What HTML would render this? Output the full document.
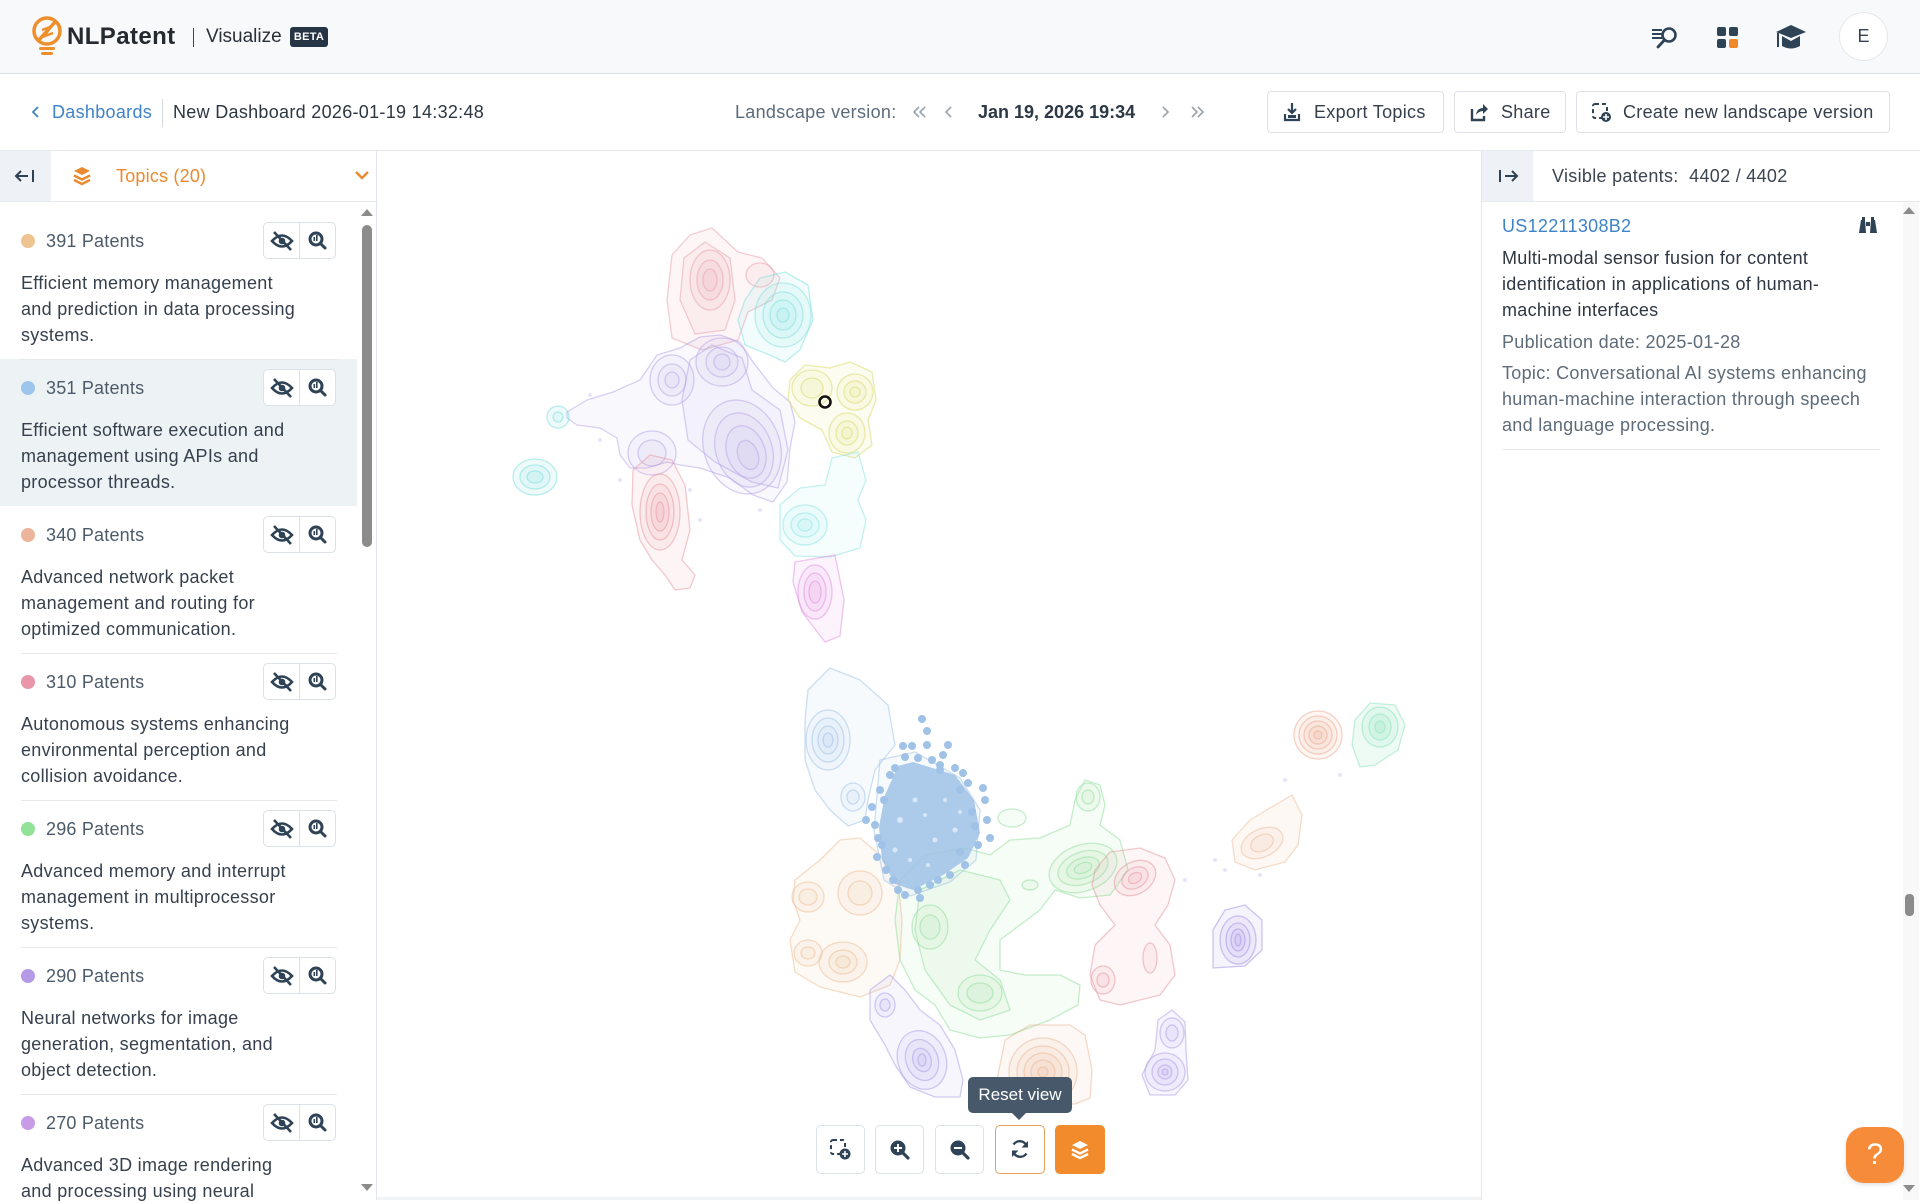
<!DOCTYPE html>
<html><head><meta charset="utf-8">
<style>
*{margin:0;padding:0;box-sizing:border-box}
body{width:1920px;height:1200px;overflow:hidden;background:#fff;font-family:"Liberation Sans",Arial,sans-serif;position:relative;color:#2e3a47}
.a{position:absolute;white-space:nowrap}
.t18{font-size:18px;letter-spacing:.3px}
.lbl{font-size:18px;line-height:22px;color:#4d5b69;letter-spacing:.2px}
.desc{font-size:18px;line-height:26px;color:#37414d;letter-spacing:.3px}
.dot{width:14px;height:14px;border-radius:50%}
.bg2{border:1px solid #dbe1e7;border-radius:5px;width:73px;height:37px;background:#fff}
.sep{height:1px;background:#e6e9ec;left:21px;width:316px}
.tb{top:1125px;width:49px;height:49px;border:1px solid #dbe2e8;border-radius:5px;background:#fff}
.hb{top:91px;height:42px;border:1px solid #dfe3e8;border-radius:4px;background:#fff}
</style></head><body>

<!-- MAP -->
<svg class="a" style="left:0;top:0" width="1920" height="1200" viewBox="0 0 1920 1200">
<g stroke-width="1.3" stroke-linejoin="round">
<!-- pink top -->
<g fill="#e8a0aa" stroke="#e8a0aa" fill-opacity=".1" stroke-opacity=".5">
<path d="M667 300 L672 255 L690 235 L712 228 L738 252 L762 258 L780 278 L772 300 L748 312 L738 340 L702 350 L672 338Z"/>
<path d="M680 300 L684 258 L705 242 L730 258 L735 300 L725 330 L695 334Z"/>
<ellipse cx="710" cy="280" rx="20" ry="30"/>
<ellipse cx="710" cy="280" rx="13" ry="20"/>
<ellipse cx="710" cy="280" rx="7" ry="11"/>
<ellipse cx="760" cy="275" rx="14" ry="12"/>
</g>
<!-- cyan top -->
<g fill="#7fdede" stroke="#7fdede" fill-opacity=".1" stroke-opacity=".5">
<path d="M745 300 L760 278 L785 272 L808 285 L813 320 L800 350 L785 362 L772 356 L745 345 L738 320Z"/>
<ellipse cx="783" cy="315" rx="28" ry="32"/>
<ellipse cx="783" cy="315" rx="20" ry="23"/>
<ellipse cx="783" cy="315" rx="13" ry="15"/>
<ellipse cx="783" cy="315" rx="6" ry="7"/>
</g>
<!-- purple big -->
<g fill="#b5a2e8" stroke="#b5a2e8" fill-opacity=".08" stroke-opacity=".5">
<path d="M567 412 L587 400 L613 392 L640 380 L657 355 L680 348 L700 337 L720 335 L740 342 L753 362 L773 388 L790 402 L795 422 L790 448 L787 482 L773 502 L753 495 L730 478 L700 468 L680 465 L667 462 L647 468 L630 468 L620 455 L617 438 L600 428 L577 425 L567 418Z"/>
<path d="M690 360 L712 345 L742 358 L752 390 L780 410 L788 450 L778 488 L752 482 L715 462 L688 440 L682 400Z"/>
<ellipse cx="672" cy="380" rx="22" ry="25"/>
<ellipse cx="672" cy="380" rx="14" ry="16"/>
<ellipse cx="672" cy="380" rx="7" ry="8"/>
<ellipse cx="722" cy="362" rx="26" ry="24"/>
<ellipse cx="722" cy="362" rx="16" ry="15"/>
<ellipse cx="722" cy="362" rx="8" ry="8"/>
<ellipse cx="742" cy="447" rx="38" ry="48" transform="rotate(-20 742 447)"/>
<ellipse cx="744" cy="450" rx="28" ry="38" transform="rotate(-20 744 450)"/>
<ellipse cx="746" cy="452" rx="19" ry="27" transform="rotate(-20 746 452)"/>
<ellipse cx="748" cy="455" rx="10" ry="15" transform="rotate(-20 748 455)"/>
<ellipse cx="652" cy="453" rx="24" ry="22"/>
<ellipse cx="652" cy="453" rx="14" ry="13"/>
</g>
<!-- cyan small -->
<g fill="#7fdede" stroke="#7fdede" fill-opacity=".12" stroke-opacity=".55">
<circle cx="558" cy="417" r="11"/><circle cx="558" cy="417" r="5"/>
<ellipse cx="535" cy="477" rx="22" ry="18"/><ellipse cx="535" cy="477" rx="15" ry="12"/><ellipse cx="535" cy="477" rx="8" ry="6"/>
</g>
<!-- yellow -->
<g fill="#dede7a" stroke="#dede7a" fill-opacity=".1" stroke-opacity=".6">
<path d="M790 380 L805 365 L830 368 L850 362 L872 372 L876 400 L868 420 L872 445 L855 458 L832 452 L822 430 L800 418 L788 400Z"/>
<ellipse cx="812" cy="388" rx="20" ry="18"/><ellipse cx="812" cy="388" rx="11" ry="10"/>
<ellipse cx="855" cy="392" rx="18" ry="18"/><ellipse cx="855" cy="392" rx="11" ry="11"/><ellipse cx="855" cy="392" rx="5" ry="5"/>
<ellipse cx="847" cy="433" rx="18" ry="20"/><ellipse cx="847" cy="433" rx="11" ry="12"/><ellipse cx="847" cy="433" rx="5" ry="6"/>
</g>
<circle cx="825" cy="402" r="5.5" fill="none" stroke="#111" stroke-width="2.6"/>
<!-- cyan mid -->
<g fill="#8ce4e4" stroke="#8ce4e4" fill-opacity=".09" stroke-opacity=".5">
<path d="M832 458 L858 452 L866 480 L858 500 L866 520 L860 548 L830 557 L795 556 L780 540 L780 505 L800 488 L825 485Z"/>
<ellipse cx="805" cy="525" rx="22" ry="20"/><ellipse cx="805" cy="525" rx="14" ry="12"/><ellipse cx="805" cy="525" rx="7" ry="6"/>
</g>
<!-- red lower-left -->
<g fill="#e7959e" stroke="#e7959e" fill-opacity=".1" stroke-opacity=".5">
<path d="M633 470 L650 455 L672 460 L685 485 L690 530 L682 560 L695 575 L690 588 L675 590 L665 575 L652 560 L640 540 L632 505Z"/>
<ellipse cx="660" cy="512" rx="20" ry="38"/><ellipse cx="660" cy="512" rx="14" ry="28"/><ellipse cx="660" cy="512" rx="9" ry="19"/><ellipse cx="660" cy="512" rx="4" ry="10"/>
</g>
<!-- magenta -->
<g fill="#e08ee0" stroke="#e08ee0" fill-opacity=".11" stroke-opacity=".5">
<path d="M795 562 L835 555 L844 600 L840 636 L825 642 L802 612 L793 582Z"/>
<ellipse cx="815" cy="592" rx="17" ry="27"/><ellipse cx="815" cy="592" rx="11" ry="19"/><ellipse cx="815" cy="592" rx="6" ry="11"/>
</g>
<!-- blue contour -->
<g fill="#9cc2e8" stroke="#9cc2e8" fill-opacity=".08" stroke-opacity=".5">
<path d="M808 690 L830 668 L860 680 L888 705 L895 745 L875 770 L868 800 L865 820 L848 826 L830 810 L815 790 L805 760 L805 720Z"/>
<ellipse cx="828" cy="740" rx="22" ry="30"/><ellipse cx="828" cy="740" rx="16" ry="22"/><ellipse cx="828" cy="740" rx="10" ry="14"/><ellipse cx="828" cy="740" rx="5" ry="7"/>
<ellipse cx="853" cy="797" rx="12" ry="14"/><ellipse cx="853" cy="797" rx="6" ry="7"/>
<path d="M880 760 L915 752 L960 778 L980 810 L976 860 L950 882 L910 896 L884 880 L874 830Z"/>
</g>
<!-- orange left -->
<g fill="#eebb90" stroke="#eebb90" fill-opacity=".09" stroke-opacity=".5">
<path d="M795 880 L820 860 L840 840 L860 838 L880 855 L898 880 L902 920 L900 960 L890 985 L860 997 L820 987 L795 972 L790 940 L800 920 L793 900Z"/>
<ellipse cx="808" cy="897" rx="16" ry="15"/><ellipse cx="808" cy="897" rx="9" ry="8"/>
<ellipse cx="860" cy="893" rx="22" ry="22"/><ellipse cx="860" cy="893" rx="12" ry="12"/>
<ellipse cx="808" cy="953" rx="14" ry="13"/><ellipse cx="808" cy="953" rx="7" ry="6"/>
<ellipse cx="843" cy="962" rx="24" ry="20"/><ellipse cx="843" cy="962" rx="14" ry="12"/><ellipse cx="843" cy="962" rx="7" ry="6"/>
</g>
<!-- green -->
<g fill="#96e0a0" stroke="#96e0a0" fill-opacity=".09" stroke-opacity=".55">
<path d="M900 880 L925 855 L965 848 L990 855 L1010 840 L1040 838 L1070 825 L1075 800 L1085 780 L1100 785 L1105 805 L1100 825 L1120 840 L1128 870 L1110 895 L1080 898 L1055 890 L1040 910 L1020 925 L1000 940 L1000 970 L1025 975 L1060 975 L1080 985 L1078 1005 L1050 1020 L1010 1035 L980 1038 L950 1030 L935 1005 L915 990 L900 960 L895 920Z"/>
<path d="M920 890 L960 870 L1000 880 L1010 900 L990 930 L975 960 L1000 980 L1010 1010 L980 1020 L950 1005 L925 970 L915 930Z"/>
<ellipse cx="930" cy="927" rx="18" ry="22"/><ellipse cx="930" cy="927" rx="10" ry="12"/>
<ellipse cx="980" cy="993" rx="22" ry="18"/><ellipse cx="980" cy="993" rx="13" ry="10"/>
<ellipse cx="1083" cy="868" rx="35" ry="23" transform="rotate(-20 1083 868)"/>
<ellipse cx="1083" cy="868" rx="26" ry="16" transform="rotate(-20 1083 868)"/>
<ellipse cx="1083" cy="868" rx="17" ry="10" transform="rotate(-20 1083 868)"/>
<ellipse cx="1083" cy="868" rx="9" ry="5" transform="rotate(-20 1083 868)"/>
<ellipse cx="1088" cy="797" rx="12" ry="14"/><ellipse cx="1088" cy="797" rx="6" ry="7"/>
<ellipse cx="1012" cy="818" rx="14" ry="9"/>
<ellipse cx="1030" cy="885" rx="8" ry="5"/>
</g>
<!-- red right -->
<g fill="#e6939c" stroke="#e6939c" fill-opacity=".09" stroke-opacity=".5">
<path d="M1095 870 L1110 852 L1140 848 L1165 858 L1175 880 L1168 905 L1155 925 L1170 945 L1175 975 L1160 995 L1120 1005 L1100 1000 L1090 975 L1095 945 L1115 925 L1100 905 L1092 885Z"/>
<ellipse cx="1135" cy="878" rx="22" ry="16" transform="rotate(-30 1135 878)"/>
<ellipse cx="1135" cy="878" rx="14" ry="10" transform="rotate(-30 1135 878)"/>
<ellipse cx="1135" cy="878" rx="7" ry="5" transform="rotate(-30 1135 878)"/>
<ellipse cx="1103" cy="980" rx="12" ry="14"/><ellipse cx="1103" cy="980" rx="6" ry="7"/>
<ellipse cx="1150" cy="958" rx="7" ry="15"/>
</g>
<!-- purple lower-left -->
<g fill="#ab9ae6" stroke="#ab9ae6" fill-opacity=".09" stroke-opacity=".5">
<path d="M870 990 L890 975 L905 990 L920 1010 L940 1025 L955 1050 L963 1080 L960 1097 L935 1097 L910 1087 L895 1065 L885 1045 L870 1020Z"/>
<ellipse cx="885" cy="1005" rx="10" ry="12"/><ellipse cx="885" cy="1005" rx="5" ry="6"/>
<ellipse cx="922" cy="1060" rx="24" ry="30" transform="rotate(-20 922 1060)"/>
<ellipse cx="922" cy="1060" rx="16" ry="21" transform="rotate(-20 922 1060)"/>
<ellipse cx="922" cy="1060" rx="9" ry="12" transform="rotate(-20 922 1060)"/>
<ellipse cx="922" cy="1060" rx="4" ry="6"/>
</g>
<!-- orange bottom -->
<g fill="#eab592" stroke="#eab592" fill-opacity=".09" stroke-opacity=".5">
<path d="M997 1080 L1005 1040 L1030 1025 L1070 1025 L1085 1035 L1092 1070 L1090 1098 L1075 1104 L1000 1104Z"/>
<ellipse cx="1043" cy="1072" rx="34" ry="34"/><ellipse cx="1043" cy="1072" rx="26" ry="26"/><ellipse cx="1043" cy="1072" rx="19" ry="19"/><ellipse cx="1043" cy="1072" rx="12" ry="12"/><ellipse cx="1043" cy="1072" rx="5" ry="5"/>
</g>
<!-- purple bottom right -->
<g fill="#b09ae8" stroke="#b09ae8" fill-opacity=".1" stroke-opacity=".5">
<path d="M1158 1020 L1172 1010 L1185 1022 L1186 1050 L1188 1080 L1175 1095 L1150 1095 L1142 1075 L1155 1050Z"/>
<ellipse cx="1172" cy="1033" rx="12" ry="15"/><ellipse cx="1172" cy="1033" rx="6" ry="8"/>
<ellipse cx="1165" cy="1072" rx="20" ry="19"/><ellipse cx="1165" cy="1072" rx="13" ry="13"/><ellipse cx="1165" cy="1072" rx="7" ry="7"/><ellipse cx="1165" cy="1072" rx="3" ry="3"/>
</g>
<!-- orange circle right -->
<g fill="#eba88a" stroke="#eba88a" fill-opacity=".1" stroke-opacity=".5">
<circle cx="1318" cy="735" r="24"/><circle cx="1318" cy="735" r="19"/><circle cx="1318" cy="735" r="14"/><circle cx="1318" cy="735" r="9"/><circle cx="1318" cy="735" r="4"/>
</g>
<!-- mint -->
<g fill="#90e6bc" stroke="#90e6bc" fill-opacity=".15" stroke-opacity=".55">
<path d="M1355 720 L1370 703 L1395 705 L1405 725 L1398 750 L1375 765 L1360 767 L1352 745Z"/>
<ellipse cx="1380" cy="727" rx="18" ry="20"/><ellipse cx="1380" cy="727" rx="11" ry="13"/><ellipse cx="1380" cy="727" rx="5" ry="6"/>
</g>
<!-- orange lower right -->
<g fill="#eebb98" stroke="#eebb98" fill-opacity=".1" stroke-opacity=".5">
<path d="M1232 840 L1250 820 L1275 805 L1292 795 L1302 815 L1298 845 L1285 862 L1255 870 L1235 862Z"/>
<ellipse cx="1262" cy="843" rx="22" ry="14" transform="rotate(-25 1262 843)"/>
<ellipse cx="1262" cy="843" rx="12" ry="8" transform="rotate(-25 1262 843)"/>
</g>
<!-- purple right -->
<g fill="#a896e6" stroke="#a896e6" fill-opacity=".11" stroke-opacity=".55">
<path d="M1213 930 L1225 910 L1245 905 L1262 920 L1262 950 L1245 966 L1213 968Z"/>
<ellipse cx="1238" cy="940" rx="18" ry="24"/><ellipse cx="1238" cy="940" rx="12" ry="17"/><ellipse cx="1238" cy="940" rx="7" ry="11"/><ellipse cx="1238" cy="940" rx="3" ry="6"/>
</g>
</g>
<!-- faint scatter -->
<g fill="#c0b0ea" fill-opacity=".35">
<circle cx="600" cy="440" r="2"/><circle cx="620" cy="480" r="2"/><circle cx="690" cy="490" r="2"/><circle cx="760" cy="510" r="2"/>
<circle cx="1215" cy="860" r="2"/><circle cx="1225" cy="870" r="2"/><circle cx="1260" cy="875" r="2"/><circle cx="1185" cy="880" r="2"/>
<circle cx="700" cy="520" r="2"/><circle cx="590" cy="395" r="2"/><circle cx="1285" cy="780" r="2"/><circle cx="1340" cy="775" r="2"/>
</g>
<!-- dense blue scatter -->
<g fill="#9fc2e6">
<path d="M913 762 L955 775 L974 800 L980 833 L968 858 L943 875 L913 890 L895 884 L882 860 L879 827 L885 795 L898 766Z" fill-opacity=".85"/>
<circle cx="922" cy="719" r="4"/><circle cx="927" cy="731" r="4"/><circle cx="903" cy="746" r="4"/><circle cx="912" cy="746" r="4"/>
<circle cx="927" cy="745" r="4"/><circle cx="948" cy="745" r="4"/><circle cx="943" cy="755" r="4"/><circle cx="983" cy="788" r="4"/>
<circle cx="987" cy="820" r="4"/><circle cx="872" cy="807" r="4"/><circle cx="877" cy="857" r="4"/><circle cx="963" cy="773" r="4"/>
<circle cx="905" cy="757" r="4"/><circle cx="890" cy="775" r="4"/><circle cx="880" cy="790" r="4"/><circle cx="960" cy="790" r="4"/>
<circle cx="972" cy="812" r="4"/><circle cx="978" cy="845" r="4"/><circle cx="965" cy="865" r="4"/><circle cx="950" cy="875" r="4"/>
<circle cx="930" cy="885" r="4"/><circle cx="905" cy="895" r="4"/><circle cx="893" cy="880" r="4"/><circle cx="882" cy="845" r="4"/>
<circle cx="875" cy="825" r="4"/><circle cx="940" cy="765" r="4"/><circle cx="918" cy="890" r="4"/><circle cx="955" cy="768" r="4"/>
<circle cx="940" cy="770" r="4"/><circle cx="985" cy="800" r="4"/><circle cx="920" cy="898" r="4"/><circle cx="898" cy="890" r="4"/>
<circle cx="968" cy="783" r="4"/><circle cx="975" cy="826" r="4"/><circle cx="960" cy="852" r="4"/><circle cx="938" cy="880" r="4"/>
<circle cx="886" cy="870" r="4"/><circle cx="878" cy="838" r="4"/><circle cx="884" cy="800" r="4"/><circle cx="895" cy="768" r="4"/>
<circle cx="918" cy="758" r="4"/><circle cx="932" cy="760" r="4"/><circle cx="866" cy="820" r="4"/><circle cx="990" cy="838" r="4"/>
</g>
<g fill="#fff" fill-opacity=".55">
<circle cx="900" cy="820" r="3"/><circle cx="935" cy="840" r="2.5"/><circle cx="915" cy="800" r="2.5"/><circle cx="955" cy="830" r="2.5"/><circle cx="895" cy="850" r="2.5"/>
<circle cx="925" cy="815" r="2"/><circle cx="945" cy="800" r="2"/><circle cx="910" cy="860" r="2"/><circle cx="960" cy="812" r="2"/><circle cx="928" cy="865" r="2"/>
</g>
</svg>

<!-- HEADER -->
<div class="a" style="left:0;top:0;width:1920px;height:73px;background:#f8f9fb"></div>
<div class="a" style="left:0;top:73px;width:1920px;height:1px;background:#dcdfe4"></div>
<svg class="a" style="left:30px;top:15px" width="36" height="44" viewBox="0 0 36 44">
<circle cx="17" cy="16" r="13" fill="none" stroke="#ee8f2c" stroke-width="3.5"/>
<path d="M8 26 L26 6" stroke="#ee8f2c" stroke-width="3.5"/>
<path d="M12 15 L20 12 L15 21 L23 18" fill="none" stroke="#ee8f2c" stroke-width="2.5"/>
<rect x="9" y="32" width="16" height="3" rx="1.5" fill="#ee8f2c"/>
<rect x="11" y="37" width="12" height="3" rx="1.5" fill="#ee8f2c"/>
</svg>
<div class="a" style="left:67px;top:22px;font-size:24px;line-height:30px;font-weight:bold;color:#242a30;letter-spacing:.4px">NLPatent</div>
<div class="a" style="left:193px;top:28px;width:1px;height:19px;background:#444"></div>
<div class="a" style="left:206px;top:25px;font-size:19px;line-height:24px;color:#2a3038">Visualize</div>
<div class="a" style="left:290px;top:27px;width:38px;height:20px;background:#263545;border-radius:3px;color:#fff;font-size:11px;font-weight:bold;line-height:20px;text-align:center;letter-spacing:.3px">BETA</div>

<svg class="a" style="left:1650px;top:26px" width="32" height="24" viewBox="0 0 32 24">
<g fill="#2f4356"><rect x="2" y="3" width="10" height="2"/><rect x="2" y="7" width="10" height="2"/><rect x="2" y="11" width="10" height="2"/></g>
<circle cx="19" cy="9" r="6.5" fill="none" stroke="#2f4356" stroke-width="2.6"/>
<line x1="14.5" y1="14" x2="8" y2="21" stroke="#2f4356" stroke-width="2.8" stroke-linecap="round"/>
</svg>
<svg class="a" style="left:1717px;top:27px" width="22" height="21" viewBox="0 0 22 21">
<rect x="0" y="0" width="9" height="9" rx="2" fill="#2f4356"/><rect x="12" y="0" width="9" height="9" rx="2" fill="#2f4356"/>
<rect x="0" y="12" width="9" height="9" rx="2" fill="#2f4356"/><rect x="12" y="12" width="9" height="9" rx="2" fill="#f0882a"/>
</svg>
<svg class="a" style="left:1775px;top:24px" width="32" height="26" viewBox="0 0 32 26">
<path d="M1 8 L16 1 L31 8 L16 14Z" fill="#2f4356"/>
<path d="M7 12 L7 22 Q16 27 25 22 L25 12 L16 17Z" fill="#2f4356"/>
<rect x="2" y="9" width="2" height="14" fill="#2f4356"/>
</svg>
<div class="a" style="left:1839px;top:12px;width:49px;height:49px;border-radius:50%;background:#fff;border:1px solid #e6e8eb;text-align:center;line-height:47px;font-size:18px;color:#3a4450">E</div>

<!-- SUBHEADER -->
<div class="a" style="left:0;top:150px;width:1920px;height:1px;background:#e6e9ed"></div>
<svg class="a" style="left:31px;top:105px" width="10" height="14" viewBox="0 0 10 14"><path d="M7 2 L2 7 L7 12" fill="none" stroke="#3f83c8" stroke-width="1.8"/></svg>
<div class="a t18" style="left:52px;top:101px;line-height:22px;color:#3f83c8">Dashboards</div>
<div class="a" style="left:162px;top:99px;width:1px;height:28px;background:#d6dadf"></div>
<div class="a t18" style="left:173px;top:101px;line-height:22px;color:#2d3742">New Dashboard 2026-01-19 14:32:48</div>
<div class="a t18" style="left:735px;top:101px;line-height:22px;color:#5c6b7a">Landscape version:</div>
<svg class="a" style="left:912px;top:104px" width="46" height="16" viewBox="0 0 46 16">
<path d="M7 3 L2 8 L7 13 M13 3 L8 8 L13 13 M39 3 L34 8 L39 13" fill="none" stroke="#9aa4ae" stroke-width="1.6"/>
</svg>
<div class="a" style="left:978px;top:101px;font-size:18px;line-height:22px;font-weight:bold;color:#2d3845">Jan 19, 2026 19:34</div>
<svg class="a" style="left:1160px;top:104px" width="50" height="16" viewBox="0 0 50 16">
<path d="M3 3 L8 8 L3 13 M32 3 L37 8 L32 13 M38 3 L43 8 L38 13" fill="none" stroke="#9aa4ae" stroke-width="1.6"/>
</svg>
<div class="a hb" style="left:1267px;width:177px"></div>
<svg class="a" style="left:1283px;top:102px" width="18" height="20" viewBox="0 0 18 20"><path d="M9 1 L9 11 M5 7 L9 11 L13 7" fill="none" stroke="#2f4356" stroke-width="2.2"/><path d="M2 12 L2 18 L16 18 L16 12" fill="none" stroke="#2f4356" stroke-width="2.2"/><rect x="5" y="13" width="8" height="3" fill="#2f4356"/></svg>
<div class="a t18" style="left:1314px;top:101px;line-height:22px;color:#35404c">Export Topics</div>
<div class="a hb" style="left:1454px;width:112px"></div>
<svg class="a" style="left:1469px;top:101px" width="20" height="21" viewBox="0 0 20 21"><path d="M3 8 L3 19 L15 19 L15 15" fill="none" stroke="#2f4356" stroke-width="2.4"/><path d="M7 14 Q8 7 14 7 L14 3 L19 8 L14 13 L14 10 Q10 10 7 14Z" fill="#2f4356"/></svg>
<div class="a t18" style="left:1501px;top:101px;line-height:22px;color:#35404c">Share</div>
<div class="a hb" style="left:1576px;width:314px"></div>
<svg class="a" style="left:1591px;top:102px" width="21" height="21" viewBox="0 0 21 21"><rect x="2" y="2" width="14" height="14" rx="2" fill="none" stroke="#2f4356" stroke-width="2" stroke-dasharray="4 3"/><circle cx="15" cy="15" r="5" fill="#2f4356"/><path d="M15 12 L15 18 M12 15 L18 15" stroke="#fff" stroke-width="1.6"/></svg>
<div class="a t18" style="left:1623px;top:101px;line-height:22px;color:#35404c">Create new landscape version</div>

<!-- LEFT PANEL -->
<div class="a" style="left:0;top:151px;width:376px;height:1049px;background:#fff"></div>
<div class="a" style="left:376px;top:151px;width:1px;height:1049px;background:#e3e6ea"></div>
<div class="a" style="left:0;top:151px;width:51px;height:50px;background:#eef1f5"></div>
<svg class="a" style="left:14px;top:168px" width="22" height="16" viewBox="0 0 22 16"><path d="M2 8 L14 8 M7 3 L2 8 L7 13" fill="none" stroke="#2f4356" stroke-width="2"/><path d="M19 2 L19 14" stroke="#2f4356" stroke-width="2"/></svg>
<svg class="a" style="left:73px;top:166px" width="18" height="20" viewBox="0 0 18 20"><path d="M9 1 L17 5 L9 9 L1 5Z" fill="#ea8a2e"/><path d="M1 9.5 L9 13.5 L17 9.5" fill="none" stroke="#ea8a2e" stroke-width="2.4"/><path d="M1 14 L9 18 L17 14" fill="none" stroke="#ea8a2e" stroke-width="2.4"/></svg>
<div class="a" style="left:116px;top:165px;font-size:18px;line-height:22px;color:#ea8a2e;letter-spacing:.2px">Topics (20)</div>
<svg class="a" style="left:355px;top:170px" width="14" height="10" viewBox="0 0 14 10"><path d="M1 2 L7 8 L13 2" fill="none" stroke="#ea8a2e" stroke-width="2.4"/></svg>
<div class="a" style="left:0;top:201px;width:376px;height:1px;background:#e8ebee"></div>
<div class="a" style="left:1482px;top:201px;width:438px;height:1px;background:#e8ebee"></div>

<!-- highlight -->
<div class="a" style="left:0;top:359px;width:357px;height:147px;background:#edf2f5"></div>

<!-- items -->
<div class="a dot" style="left:21px;top:234px;background:#f0c491"></div>
<div class="a lbl" style="left:46px;top:230px">391 Patents</div>
<div class="a desc" style="left:21px;top:270px">Efficient memory management<br>and prediction in data processing<br>systems.</div>
<div class="a sep" style="top:359px"></div>

<div class="a dot" style="left:21px;top:381px;background:#9ec5eb"></div>
<div class="a lbl" style="left:46px;top:377px">351 Patents</div>
<div class="a desc" style="left:21px;top:417px">Efficient software execution and<br>management using APIs and<br>processor threads.</div>

<div class="a dot" style="left:21px;top:528px;background:#ebb49b"></div>
<div class="a lbl" style="left:46px;top:524px">340 Patents</div>
<div class="a desc" style="left:21px;top:564px">Advanced network packet<br>management and routing for<br>optimized communication.</div>
<div class="a sep" style="top:653px"></div>

<div class="a dot" style="left:21px;top:675px;background:#e996a9"></div>
<div class="a lbl" style="left:46px;top:671px">310 Patents</div>
<div class="a desc" style="left:21px;top:711px">Autonomous systems enhancing<br>environmental perception and<br>collision avoidance.</div>
<div class="a sep" style="top:800px"></div>

<div class="a dot" style="left:21px;top:822px;background:#92e398"></div>
<div class="a lbl" style="left:46px;top:818px">296 Patents</div>
<div class="a desc" style="left:21px;top:858px">Advanced memory and interrupt<br>management in multiprocessor<br>systems.</div>
<div class="a sep" style="top:947px"></div>

<div class="a dot" style="left:21px;top:969px;background:#b59be7"></div>
<div class="a lbl" style="left:46px;top:965px">290 Patents</div>
<div class="a desc" style="left:21px;top:1005px">Neural networks for image<br>generation, segmentation, and<br>object detection.</div>
<div class="a sep" style="top:1094px"></div>

<div class="a dot" style="left:21px;top:1116px;background:#c79be8"></div>
<div class="a lbl" style="left:46px;top:1112px">270 Patents</div>
<div class="a desc" style="left:21px;top:1152px">Advanced 3D image rendering<br>and processing using neural</div>

<!-- button groups -->
<div class="a bg2" style="left:263px;top:222px"></div>
<div class="a bg2" style="left:263px;top:369px"></div>
<div class="a bg2" style="left:263px;top:516px"></div>
<div class="a bg2" style="left:263px;top:663px"></div>
<div class="a bg2" style="left:263px;top:810px"></div>
<div class="a bg2" style="left:263px;top:957px"></div>
<div class="a bg2" style="left:263px;top:1104px"></div>
<svg class="a" style="left:263px;top:222px" width="74" height="920" viewBox="0 0 74 920">
<defs>
<g id="ic">
<line x1="36.5" y1="1" x2="36.5" y2="36" stroke="#dbe1e7" stroke-width="1"/>
<path d="M9 19 Q19 8 29 19 Q19 30 9 19Z" fill="none" stroke="#2f4356" stroke-width="2.6"/>
<circle cx="19" cy="19" r="3.3" fill="#2f4356"/>
<line x1="11" y1="10" x2="28" y2="28" stroke="#2f4356" stroke-width="2.6"/>
<circle cx="53" cy="17" r="6" fill="none" stroke="#2f4356" stroke-width="3"/>
<rect x="50.5" y="15" width="1.6" height="4" fill="#2f4356"/><rect x="53" y="13" width="1.6" height="6" fill="#2f4356"/>
<line x1="57.5" y1="21.5" x2="62" y2="26" stroke="#2f4356" stroke-width="3" stroke-linecap="round"/>
</g>
</defs>
<use href="#ic" y="0"/><use href="#ic" y="147"/><use href="#ic" y="294"/><use href="#ic" y="441"/><use href="#ic" y="588"/><use href="#ic" y="735"/><use href="#ic" y="882"/>
</svg>

<!-- left scrollbar -->
<svg class="a" style="left:360px;top:207px" width="14" height="10" viewBox="0 0 14 10"><path d="M1 9 L7 2 L13 9Z" fill="#8c8c8c"/></svg>
<div class="a" style="left:362px;top:225px;width:10px;height:322px;border-radius:5px;background:#8c8c8c"></div>
<svg class="a" style="left:360px;top:1183px" width="14" height="10" viewBox="0 0 14 10"><path d="M1 1 L7 8 L13 1Z" fill="#8c8c8c"/></svg>

<!-- RIGHT PANEL -->
<div class="a" style="left:1482px;top:151px;width:438px;height:50px;background:#fff"></div>
<div class="a" style="left:1481px;top:151px;width:1px;height:1049px;background:#e3e6ea"></div>
<div class="a" style="left:1482px;top:151px;width:51px;height:50px;background:#eef1f5"></div>
<svg class="a" style="left:1497px;top:168px" width="22" height="16" viewBox="0 0 22 16"><path d="M3 2 L3 14" stroke="#2f4356" stroke-width="2"/><path d="M8 8 L20 8 M15 3 L20 8 L15 13" fill="none" stroke="#2f4356" stroke-width="2"/></svg>
<div class="a t18" style="left:1552px;top:165px;line-height:22px;color:#3c4550">Visible patents:&nbsp; 4402 / 4402</div>
<div class="a t18" style="left:1502px;top:215px;line-height:22px;color:#3f83c8">US12211308B2</div>
<svg class="a" style="left:1858px;top:216px" width="20" height="18" viewBox="0 0 20 18"><path d="M3 4 L7 4 L8 17 L1 17Z M13 4 L17 4 L19 17 L12 17Z" fill="#2f4356"/><rect x="4" y="1" width="3" height="3" fill="#2f4356"/><rect x="13" y="1" width="3" height="3" fill="#2f4356"/><rect x="8" y="6" width="4" height="4" fill="#2f4356"/></svg>
<div class="a desc" style="left:1502px;top:245px;color:#2e3742">Multi-modal sensor fusion for content<br>identification in applications of human-<br>machine interfaces</div>
<div class="a desc" style="left:1502px;top:329px;color:#5e6b78">Publication date: 2025-01-28</div>
<div class="a desc" style="left:1502px;top:360px;color:#5e6b78">Topic: Conversational AI systems enhancing<br>human-machine interaction through speech<br>and language processing.</div>
<div class="a" style="left:1502px;top:449px;width:378px;height:1px;background:#e6e9ec"></div>
<div class="a" style="left:1903px;top:202px;width:16px;height:998px;background:#f8f8f8"></div>
<svg class="a" style="left:1902px;top:205px" width="14" height="10" viewBox="0 0 14 10"><path d="M1 9 L7 2 L13 9Z" fill="#8c8c8c"/></svg>
<div class="a" style="left:1905px;top:894px;width:9px;height:22px;border-radius:4px;background:#8c8c8c"></div>
<svg class="a" style="left:1902px;top:1184px" width="14" height="10" viewBox="0 0 14 10"><path d="M1 1 L7 8 L13 1Z" fill="#8c8c8c"/></svg>

<!-- help -->
<div class="a" style="left:1846px;top:1127px;width:58px;height:56px;border-radius:18px;background:#f68c3a;color:#fff;font-size:30px;line-height:56px;text-align:center;font-weight:normal;box-shadow:0 2px 4px rgba(0,0,0,.12)">?</div>

<!-- tooltip -->
<div class="a" style="left:968px;top:1077px;width:104px;height:36px;border-radius:5px;background:#465869;color:#fff;font-size:17px;line-height:36px;text-align:center">Reset view</div>
<svg class="a" style="left:1011px;top:1112px" width="16" height="9" viewBox="0 0 16 9"><path d="M0 0 L16 0 L8 8Z" fill="#465869"/></svg>

<!-- toolbar -->
<div class="a tb" style="left:816px"></div>
<svg class="a" style="left:829px;top:1138px" width="24" height="24" viewBox="0 0 24 24"><rect x="2" y="2" width="14" height="14" rx="2" fill="none" stroke="#2f4356" stroke-width="2" stroke-dasharray="4 3"/><circle cx="16" cy="16" r="5.5" fill="#2f4356"/><path d="M16 13 L16 19 M13 16 L19 16" stroke="#fff" stroke-width="1.6"/></svg>
<div class="a tb" style="left:875px"></div>
<svg class="a" style="left:889px;top:1139px" width="22" height="22" viewBox="0 0 22 22"><circle cx="9" cy="9" r="7.5" fill="#2f4356"/><path d="M9 5 L9 13 M5 9 L13 9" stroke="#fff" stroke-width="2"/><line x1="14" y1="14" x2="19" y2="19" stroke="#2f4356" stroke-width="3.2" stroke-linecap="round"/></svg>
<div class="a tb" style="left:935px"></div>
<svg class="a" style="left:949px;top:1139px" width="22" height="22" viewBox="0 0 22 22"><circle cx="9" cy="9" r="7.5" fill="#2f4356"/><path d="M5 9 L13 9" stroke="#fff" stroke-width="2"/><line x1="14" y1="14" x2="19" y2="19" stroke="#2f4356" stroke-width="3.2" stroke-linecap="round"/></svg>
<div class="a tb" style="left:995px;width:50px;border-color:#e8a15c"></div>
<svg class="a" style="left:1009px;top:1138px" width="22" height="22" viewBox="0 0 22 22"><path d="M18 9 A7.5 7.5 0 0 0 4.5 6.5" fill="none" stroke="#2f4356" stroke-width="2.4"/><path d="M4 13 A7.5 7.5 0 0 0 17.5 15.5" fill="none" stroke="#2f4356" stroke-width="2.4"/><path d="M19 3 L19 9.5 L12.5 9.5Z" fill="#2f4356"/><path d="M3 19 L3 12.5 L9.5 12.5Z" fill="#2f4356"/></svg>
<div class="a tb" style="left:1055px;width:50px;border-color:#f18b2c;background:#f18b2c"></div>
<svg class="a" style="left:1071px;top:1140px" width="18" height="20" viewBox="0 0 18 20"><path d="M9 1 L17 5 L9 9 L1 5Z" fill="#fff"/><path d="M1 9.5 L9 13.5 L17 9.5" fill="none" stroke="#fff" stroke-width="2.4"/><path d="M1 14 L9 18 L17 14" fill="none" stroke="#fff" stroke-width="2.4"/></svg>

<div class="a" style="left:377px;top:1197px;width:1104px;height:3px;background:#f2f3f5"></div>
</body></html>
